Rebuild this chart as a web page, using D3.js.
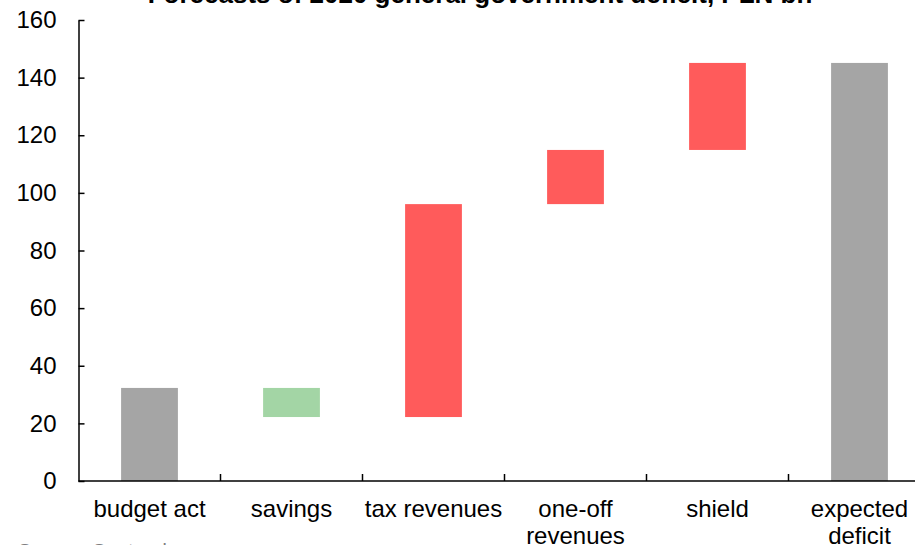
<!DOCTYPE html>
<html>
<head>
<meta charset="utf-8">
<script src="https://cdn.jsdelivr.net/npm/d3@7"></script>
<style>
  html, body { margin: 0; padding: 0; background: #fff; overflow: hidden; }
  svg { display: block; font-family: "Liberation Sans", Arial, sans-serif; }
</style>
</head>
<body>
<svg id="chart" width="915" height="545"></svg>
<script>
// ---- data ----
const categories = ["budget act", "savings", "tax revenues", "one-off\nrevenues", "shield", "expected\ndeficit"];
const kinds = ["total", "decrease", "increase", "increase", "increase", "total"];
const values = [32.3, -10.1, 73.9, 18.8, 30.2, 145.1];
const yTicks = [0, 20, 40, 60, 80, 100, 120, 140, 160];
const titleText = "Forecasts of 2020 general government deficit, PLN bn";
const sourceText = "Source: Santander";
const colors = { total: "#A5A5A5", decrease: "#A3D5A5", increase: "#FF5B5B" };

// build waterfall segments
let running = 0;
const segs = categories.map((c, i) => {
  let y0, y1;
  if (kinds[i] === "total") { y0 = 0; y1 = values[i]; running = values[i]; }
  else { y0 = running; y1 = running + values[i]; running = y1; }
  return { cat: c, kind: kinds[i], lo: Math.min(y0, y1), hi: Math.max(y0, y1) };
});

const svg = d3.select("#chart");
const plotLeft = 78.5, plotRight = 930.5, plotTop = 20, plotBottom = 481;

const x = d3.scaleBand().domain(categories).range([plotLeft, plotRight]).padding(0);
const y = d3.scaleLinear().domain([0, 160]).range([plotBottom, plotTop]);
const barW = x.bandwidth() * 0.4;

// title
svg.append("text")
  .attr("x", 480).attr("y", 3)
  .attr("text-anchor", "middle")
  .attr("font-weight", "bold")
  .attr("font-size", 26)
  .attr("fill", "#000")
  .text(titleText);

// bars
svg.append("g").selectAll("rect").data(segs).join("rect")
  .attr("x", d => x(d.cat) + (x.bandwidth() - barW) / 2)
  .attr("width", barW)
  .attr("y", d => y(d.hi))
  .attr("height", d => y(d.lo) - y(d.hi))
  .attr("fill", d => colors[d.kind]);

// y axis
const yAxis = d3.axisLeft(y).tickValues(yTicks).tickSizeInner(-6).tickSizeOuter(0).tickPadding(22);
const gy = svg.append("g").attr("transform", `translate(${plotLeft},0)`).call(yAxis);
gy.select(".domain").attr("stroke", "#000").attr("stroke-width", 1.5);
gy.selectAll(".tick line").attr("stroke", "#000").attr("stroke-width", 1.5);
gy.selectAll(".tick text").attr("font-size", 24).attr("fill", "#000")
  .attr("font-family", "'Liberation Sans', Arial, sans-serif");

// x axis line
svg.append("line")
  .attr("x1", plotLeft).attr("x2", plotRight)
  .attr("y1", plotBottom).attr("y2", plotBottom)
  .attr("stroke", "#000").attr("stroke-width", 1.5);

// x ticks at band boundaries (pointing up)
svg.append("g").selectAll("line").data(categories.slice(1)).join("line")
  .attr("x1", d => x(d)).attr("x2", d => x(d))
  .attr("y1", plotBottom).attr("y2", plotBottom - 7)
  .attr("stroke", "#000").attr("stroke-width", 1.5);

// category labels
const lab = svg.append("g").selectAll("text").data(categories).join("text")
  .attr("x", d => x(d) + x.bandwidth() / 2)
  .attr("y", 517)
  .attr("text-anchor", "middle")
  .attr("font-size", 24)
  .attr("fill", "#000");
lab.each(function(d) {
  const lines = d.split("\n");
  const t = d3.select(this);
  lines.forEach((ln, i) => {
    t.append("tspan").attr("x", x(d) + x.bandwidth() / 2).attr("dy", i === 0 ? 0 : 27).text(ln);
  });
});

// source
svg.append("text")
  .attr("x", 18).attr("y", 558)
  .attr("font-size", 20)
  .attr("fill", "#7F7F7F")
  .text(sourceText);
</script>
</body>
</html>
